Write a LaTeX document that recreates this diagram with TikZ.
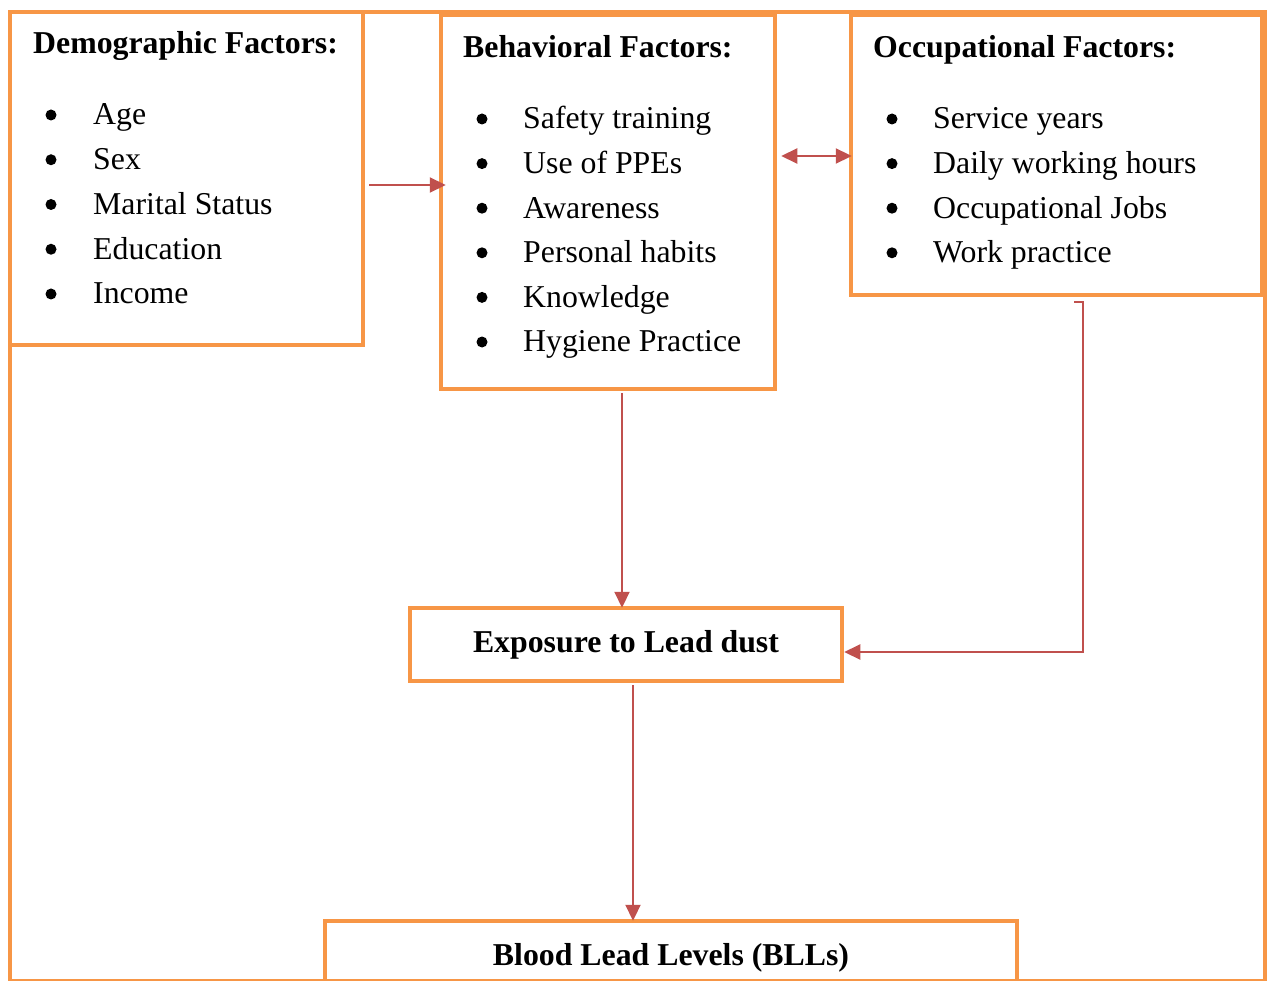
\documentclass[tikz,border=0pt]{standalone}
\usepackage{fontspec}
\setmainfont{Liberation Serif}
\usetikzlibrary{arrows.meta}
\definecolor{boxor}{HTML}{F79646}
\definecolor{arrred}{HTML}{C0504D}
\begin{document}
\begin{tikzpicture}[x=1pt,y=-1pt,
  box/.style={draw=boxor, line width=4.5pt, inner sep=0pt, fill=none},
  item/.style={font=\fontsize{31.8}{38}\selectfont, inner sep=0pt, anchor=base west},
  hd/.style={font=\fontsize{31.8}{38}\selectfont\bfseries, inner sep=0pt, anchor=base west},
  bul/.style={circle, fill=black, inner sep=0pt, minimum size=11pt},
  arr/.style={draw=arrred, line width=2.2pt, -{Triangle[length=16pt,width=15pt]}},
  darr/.style={draw=arrred, line width=2.2pt, {Triangle[length=16pt,width=15pt]}-{Triangle[length=16pt,width=15pt]}}]
\useasboundingbox (0,0) rectangle (1268,981);
\clip (0,0) rectangle (1268,981);
\fill[white] (0,0) rectangle (1268,981);
% outer frame
\node[box, line width=4pt, minimum width=1255pt, minimum height=968.5pt] (frame) at (637.5,496.25) {};
% boxes
\node[box, minimum width=353pt, minimum height=333pt] (demo) at (186.5,178.5) {};
\node[box, minimum width=334pt, minimum height=374pt] (beh) at (608,202) {};
\node[box, minimum width=411pt, minimum height=280pt] (occ) at (1056.5,155) {};
\node[box, minimum width=432pt, minimum height=73pt] (exp) at (626,644.5) {};
\node[box, minimum width=692pt, minimum height=79pt] (bll) at (671,960.5) {};
% headings
\node[hd] (demoh) at (33,54) {Demographic Factors:};
\node[hd] (behh) at (463,58) {Behavioral Factors:};
\node[hd] (occh) at (873,58) {Occupational Factors:};
\node[hd, anchor=base] (expt) at (626,652) {Exposure to Lead dust};
\node[hd, anchor=base] (bllt) at (671,965) {Blood Lead Levels (BLLs)};
% items
\foreach \t [count=\i] in {Age,Sex,Marital Status,Education,Income} {
  \node[item] (d\i) at (93,{125+44.75*(\i-1)}) {\t};
  \node[bul] (db\i) at (51,{115+44.75*(\i-1)}) {};
}
\foreach \t [count=\i] in {Safety training,Use of PPEs,Awareness,Personal habits,Knowledge,Hygiene Practice} {
  \node[item] (b\i) at (523,{129+44.6*(\i-1)}) {\t};
  \node[bul] (bb\i) at (482,{119+44.6*(\i-1)}) {};
}
\foreach \t [count=\i] in {Service years,Daily working hours,Occupational Jobs,Work practice} {
  \node[item] (o\i) at (933,{129+44.6*(\i-1)}) {\t};
  \node[bul] (ob\i) at (892,{119+44.6*(\i-1)}) {};
}
% helper coordinates
\coordinate (ya) at (0,185);
\coordinate (yb) at (0,156);
\coordinate (xa) at (622,0);
\coordinate (xo) at (1083,0);
\coordinate (ye) at (0,652);
\coordinate (xb) at (633,0);
% connectors
\draw[arr] ([xshift=4pt]demo.east |- ya) -- ([xshift=7pt]beh.west |- ya);
\draw[darr] ([xshift=4pt]beh.east |- yb) -- ([xshift=3pt]occ.west |- yb);
\draw[arr] ([yshift=-2pt]beh.south -| xa) -- ([yshift=-2pt]exp.north -| xa);
\draw[arr] ([xshift=-9pt,yshift=-5pt]occ.south -| xo) -- ([yshift=-5pt]occ.south -| xo) -- (xo |- ye) -- (exp.east |- ye);
\draw[arr] ([yshift=-2pt]exp.south -| xb) -- ([yshift=-2pt]bll.north -| xb);
\end{tikzpicture}
\end{document}
